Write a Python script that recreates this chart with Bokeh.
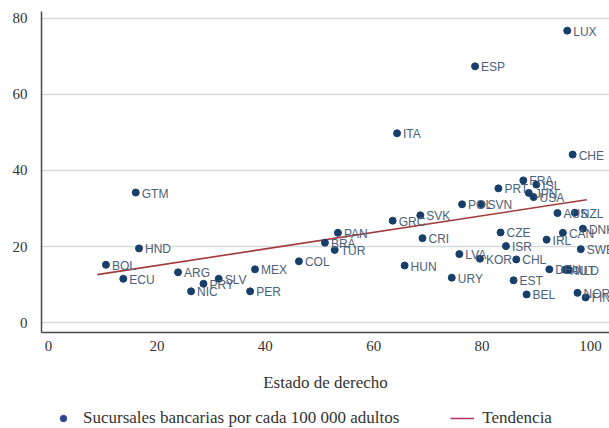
from bokeh.plotting import figure
from bokeh.models import (ColumnDataSource, Legend, LegendItem, FixedTicker, Range1d, LabelSet)
from bokeh.core.properties import value
from bokeh.layouts import column
from bokeh.embed import file_html
from bokeh.resources import INLINE

countries = ["GTM", "HND", "BOL", "ECU", "ARG", "NIC", "PRY", "SLV", "MEX", "PER",
             "COL", "LUX", "ESP", "ITA", "CHE", "FRA", "ISL", "PRT", "JPN", "USA",
             "POL", "SVN", "AUS", "NZL", "GRC", "SVK", "PAN", "BRA", "TUR", "CRI",
             "CZE", "ISR", "IRL", "CAN", "DNK", "SWE", "LVA", "KOR", "CHL", "HUN",
             "URY", "EST", "DEU", "AUT", "NLD", "BEL", "NOR", "FIN"]
rule_of_law = [16.1, 16.7, 10.6, 13.8, 23.9, 26.3, 28.6, 31.4, 38.1, 37.2,
               46.2, 95.7, 78.7, 64.3, 96.7, 87.6, 90.0, 83.0, 88.6, 89.5,
               76.3, 79.9, 93.9, 97.1, 63.5, 68.6, 53.4, 51.0, 52.8, 69.0,
               83.4, 84.4, 91.9, 94.9, 98.6, 98.2, 75.8, 79.6, 86.3, 65.7,
               74.4, 85.8, 92.4, 95.3, 96.0, 88.2, 97.6, 99.1]
branches = [34.2, 19.5, 15.2, 11.5, 13.2, 8.2, 10.2, 11.5, 14.0, 8.2,
            16.1, 76.8, 67.4, 49.8, 44.2, 37.4, 36.3, 35.3, 34.1, 33.0,
            31.1, 31.1, 28.8, 28.9, 26.8, 28.2, 23.6, 21.0, 19.1, 22.2,
            23.7, 20.1, 21.8, 23.6, 24.7, 19.3, 18.0, 16.8, 16.6, 15.0,
            11.8, 11.1, 14.0, 13.9, 13.9, 7.4, 7.8, 6.6]
trend_x = [9.0, 99.3]
trend_y = [12.6, 32.3]
x_ticks = [0, 20, 40, 60, 80, 100]
y_ticks = [0, 20, 40, 60, 80]

src = ColumnDataSource(dict(x=rule_of_law, y=branches, name=countries))

p = figure(width=609, height=402, output_backend="svg", toolbar_location=None,
           x_range=Range1d(-1.29, 103.5), y_range=Range1d(-2.63, 81.84),
           min_border_left=41, min_border_right=0, min_border_top=11,
           min_border_bottom=70)
p.outline_line_color = None
p.background_fill_color = "white"
p.border_fill_color = "white"

p.xgrid.visible = False
p.ygrid.ticker = FixedTicker(ticks=y_ticks)
p.ygrid.grid_line_color = "#d6d9dc"
p.ygrid.grid_line_width = 1.5

p.xaxis.ticker = FixedTicker(ticks=x_ticks)
p.yaxis.ticker = FixedTicker(ticks=y_ticks)
for ax in (p.xaxis, p.yaxis):
    ax.major_tick_line_color = None
    ax.minor_tick_line_color = None
    ax.major_tick_out = 0
    ax.major_tick_in = 0
    ax.axis_line_color = "#4a4a4a"
    ax.axis_line_width = 1.5
    ax.major_label_text_font = "Liberation Serif"
    ax.major_label_text_font_size = "15px"
    ax.major_label_text_color = "#333333"
p.xaxis.major_label_standoff = 8
p.yaxis.major_label_standoff = 14
p.xaxis.axis_label = "Estado de derecho"
p.xaxis.axis_label_text_font = "Liberation Serif"
p.xaxis.axis_label_text_font_size = "17px"
p.xaxis.axis_label_text_font_style = "normal"
p.xaxis.axis_label_text_color = "#333333"
p.xaxis.axis_label_standoff = 19

# trend line
p.line(trend_x, trend_y, line_color="#a33b3b", line_width=1.6)

p.scatter(x="x", y="y", source=src, size=7, color="#173f69")

# country labels
labels = LabelSet(x="x", y="y", text="name", source=src, x_offset=6, y_offset=-1,
                  text_baseline="middle", text_align="left",
                  text_font_size=value("12px"),
                  text_font=value("Liberation Sans"), text_color="#4b6079")
p.add_layout(labels)

# legend strip (proxy renderers sit outside the strip's visible range)
lg = figure(width=609, height=26, output_backend="svg", toolbar_location=None,
            x_range=Range1d(0, 1), y_range=Range1d(0, 1),
            x_axis_location=None, y_axis_location=None,
            min_border_left=41, min_border_right=0, min_border_top=0,
            min_border_bottom=0)
lg.outline_line_color = None
lg.grid.visible = False
r_dot = lg.scatter(x=[5], y=[5], size=9, color="#2d4496")
r_line = lg.line(x=[5, 6], y=[5, 5], line_color="#b0306e", line_width=1.5)
legend = Legend(items=[
    LegendItem(label="Sucursales bancarias por cada 100 000 adultos", renderers=[r_dot]),
    LegendItem(label="Tendencia", renderers=[r_line])],
    orientation="horizontal", location=(10, 0),
    label_text_font="Liberation Serif", label_text_font_size="17px",
    label_text_color="#333333", glyph_width=24, glyph_height=16,
    label_height=16, label_standoff=8, spacing=51, padding=2, margin=0,
    border_line_color=None, background_fill_alpha=0)
lg.add_layout(legend)

layout = column(p, lg, spacing=0)
open("out.html", "w").write(file_html(layout, INLINE))
